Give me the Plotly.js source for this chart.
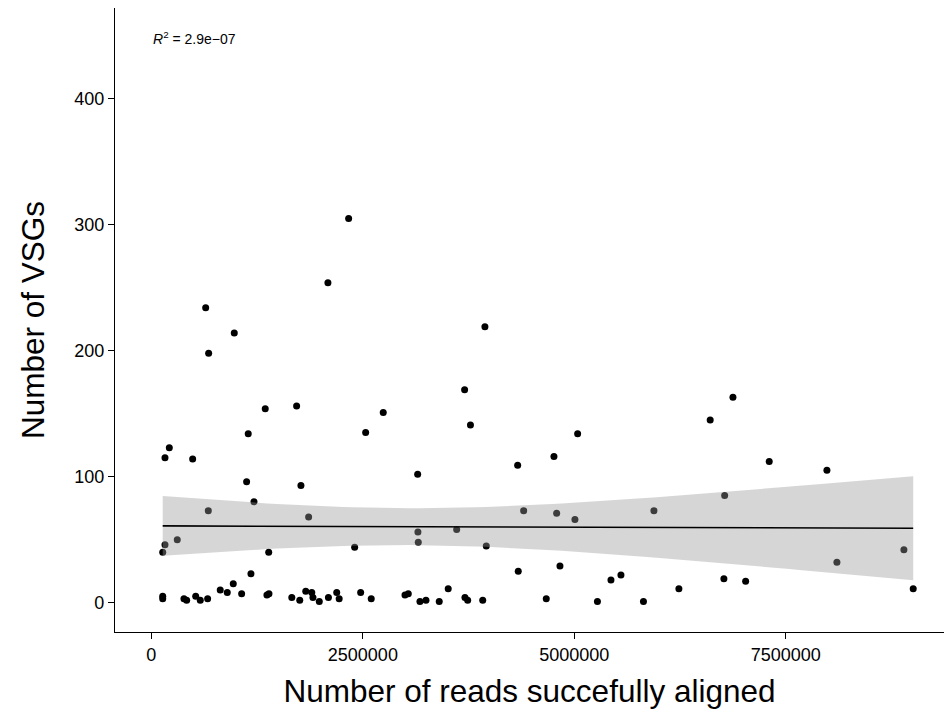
<!DOCTYPE html>
<html>
<head>
<meta charset="utf-8">
<script src="https://cdn.plot.ly/plotly-3.0.1.min.js"></script>
<style>
  html, body { margin: 0; padding: 0; background: #ffffff; }
  #chart { width: 949px; height: 709px; }
</style>
</head>
<body>
<div id="chart"></div>
<script>
// Reads aligned per sample and number of VSGs detected
const readsAligned = [
  134000, 134000, 161000, 212000, 161000, 134000, 306000, 385000, 417000, 488000,
  524000, 578000, 642000, 665000, 673000, 677000, 814000, 897000, 968000, 980000,
  1067000, 1126000, 1145000, 1177000, 1213000, 1346000, 1366000, 1390000, 1387000, 1660000,
  1717000, 1754000, 1768000, 1825000, 1859000, 1896000, 1910000, 1985000, 2093000, 2087000,
  2191000, 2220000, 2332000, 2403000, 2474000, 2533000, 2599000, 2741000, 2998000, 3037000,
  3148000, 3151000, 3155000, 3175000, 3246000, 3403000, 3509000, 3609000, 3703000, 3707000,
  3739000, 3772000, 3917000, 3943000, 3959000, 4330000, 4337000, 4401000, 4668000, 4759000,
  4791000, 4830000, 5007000, 5039000, 5273000, 5433000, 5551000, 5817000, 5941000, 6236000,
  6606000, 6768000, 6777000, 6875000, 7025000, 7304000, 7986000, 8104000, 8896000, 9006000
];
const vsgCount = [
  5, 3, 115, 123, 46, 40, 50, 3, 2, 114,
  5, 2, 234, 3, 73, 198, 10, 8, 15, 214,
  7, 96, 134, 23, 80, 154, 6, 7, 40, 4,
  156, 2, 93, 9, 68, 8, 4, 1, 4, 254,
  8, 3, 305, 44, 8, 135, 3, 151, 6, 7,
  102, 56, 48, 1, 2, 1, 11, 58, 169, 4,
  2, 141, 2, 219, 45, 109, 25, 73, 3, 116,
  71, 29, 66, 134, 1, 18, 22, 1, 73, 11,
  145, 19, 85, 163, 17, 112, 105, 32, 42, 11
];
const xTickValues = [0, 2500000, 5000000, 7500000];
const xTickLabels = ['0', '2500000', '5000000', '7500000'];
const yTickValues = [0, 100, 200, 300, 400];
const yTickLabels = ['0', '100', '200', '300', '400'];
const r2Label = '<i>R</i><sup>2</sup> = 2.9e\u221207';

// Ordinary least squares fit with a 95% confidence band (as geom_smooth(method = "lm"))
function linearFit(xs, ys, nGrid) {
  const n = xs.length;
  const mx = xs.reduce((a, b) => a + b, 0) / n;
  const my = ys.reduce((a, b) => a + b, 0) / n;
  let sxx = 0, sxy = 0;
  for (let i = 0; i < n; i++) {
    sxx += (xs[i] - mx) ** 2;
    sxy += (xs[i] - mx) * (ys[i] - my);
  }
  const slope = sxy / sxx;
  const intercept = my - slope * mx;
  let rss = 0;
  for (let i = 0; i < n; i++) rss += (ys[i] - intercept - slope * xs[i]) ** 2;
  const sigma = Math.sqrt(rss / (n - 2));
  const tCrit = 1.9873; // two-sided 95% quantile, df = n - 2
  const xmin = Math.min(...xs), xmax = Math.max(...xs);
  const gx = [], fit = [], lo = [], hi = [];
  for (let k = 0; k < nGrid; k++) {
    const x = xmin + (xmax - xmin) * k / (nGrid - 1);
    const yhat = intercept + slope * x;
    const se = sigma * Math.sqrt(1 / n + (x - mx) ** 2 / sxx);
    gx.push(x); fit.push(yhat);
    lo.push(yhat - tCrit * se); hi.push(yhat + tCrit * se);
  }
  return { gx, fit, lo, hi };
}

const band = linearFit(readsAligned, vsgCount, 80);

const traces = [
  {
    x: readsAligned, y: vsgCount, type: 'scatter', mode: 'markers',
    marker: { color: '#000000', size: 7, line: { width: 0 } },
    hoverinfo: 'x+y', showlegend: false
  },
  {
    x: band.gx, y: band.lo, type: 'scatter', mode: 'lines',
    line: { width: 0, color: 'rgba(0,0,0,0)' }, hoverinfo: 'skip', showlegend: false
  },
  {
    x: band.gx, y: band.hi, type: 'scatter', mode: 'lines', fill: 'tonexty',
    fillcolor: 'rgba(153,153,153,0.4)',
    line: { width: 0, color: 'rgba(0,0,0,0)' }, hoverinfo: 'skip', showlegend: false
  },
  {
    x: band.gx, y: band.fit, type: 'scatter', mode: 'lines',
    line: { color: '#000000', width: 1.6 }, hoverinfo: 'skip', showlegend: false
  }
];

const font = 'Liberation Sans, Arial, Helvetica, sans-serif';

const layout = {
  width: 949, height: 709,
  paper_bgcolor: '#ffffff', plot_bgcolor: '#ffffff',
  margin: { l: 115, r: 5, t: 8, b: 77 },
  font: { family: font, color: '#000000' },
  showlegend: false,
  xaxis: {
    range: [-430000, 9370000],
    tickmode: 'array', tickvals: xTickValues, ticktext: xTickLabels,
    showgrid: false, zeroline: false,
    showline: true, linecolor: '#000000', linewidth: 1.1,
    ticks: 'outside', ticklen: 6, tickwidth: 1.1, tickcolor: '#000000',
    tickfont: { family: font, size: 18, color: '#000000' },
    title: { text: 'Number of reads succefully aligned', font: { family: font, size: 31.5, color: '#000000' }, standoff: 16 }
  },
  yaxis: {
    range: [-23.3, 472],
    tickmode: 'array', tickvals: yTickValues, ticktext: yTickLabels,
    showgrid: false, zeroline: false,
    showline: true, linecolor: '#000000', linewidth: 1.1,
    ticks: 'outside', ticklen: 6, tickwidth: 1.1, tickcolor: '#000000',
    tickfont: { family: font, size: 18, color: '#000000' },
    title: { text: 'Number of VSGs', font: { family: font, size: 31.5, color: '#000000' }, standoff: 20 }
  },
  annotations: [
    {
      xref: 'x', yref: 'y', x: 0, y: 448, xanchor: 'left', yanchor: 'middle',
      text: r2Label, showarrow: false,
      font: { family: font, size: 14, color: '#000000' }
    }
  ]
};

Plotly.newPlot('chart', traces, layout, { displayModeBar: false, staticPlot: true });
</script>
</body>
</html>
